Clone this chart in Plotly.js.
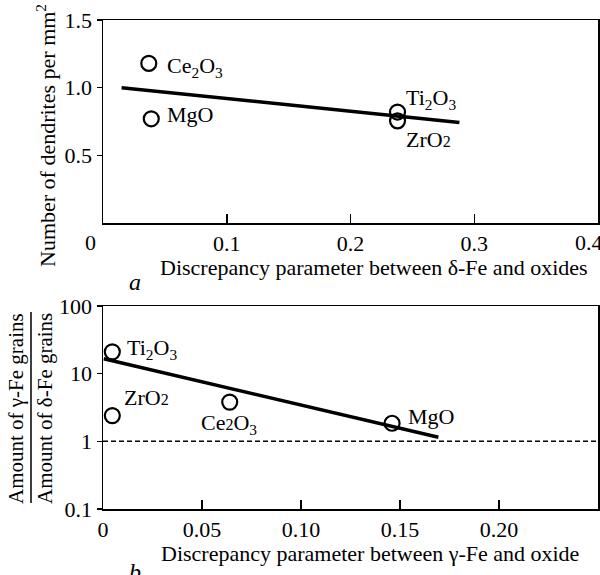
<!DOCTYPE html>
<html>
<head>
<meta charset="utf-8">
<script src="https://cdn.plot.ly/plotly-3.0.1.min.js"></script>
<style>html,body{margin:0;padding:0;background:#fff;}#chart{width:600px;height:575px;}</style>
</head>
<body>
<div id="chart"></div>
<script>
// ---- Panel a data ----
var namesA = ['Ce<sub>2</sub>O<sub>3</sub>', 'MgO', 'Ti<sub>2</sub>O<sub>3</sub>', 'ZrO<span style="font-size:16px">2</span>'];
var xA = [0.037, 0.039, 0.238, 0.238];
var yA = [1.18, 0.77, 0.82, 0.755];
var fitAx = [0.015, 0.288];
var fitAy = [1.0, 0.743];
var tickValsAx = [0.1, 0.2, 0.3, 0.4];
var tickTextAx = ['0.1', '0.2', '0.3', ''];
var edgeLabelsAx = ['0', '0.4'];
var tickValsAy = [0.5, 1.0, 1.5];
var tickTextAy = ['0.5', '1.0', '1.5'];

// ---- Panel b data ----
var namesB = ['Ti<sub>2</sub>O<sub>3</sub>', 'ZrO<span style="font-size:16px">2</span>', 'Ce<span style="font-size:16px">2</span>O<sub>3</sub>', 'MgO'];
var xB = [0.0047, 0.0047, 0.064, 0.146];
var yB = [21, 2.4, 3.8, 1.85];
var fitBx = [0.0004, 0.1694];
var fitBy = [16.6, 1.15];
var refBx = [0, 0.25];
var refBy = [1, 1];
var tickValsBx = [0, 0.05, 0.10, 0.15, 0.20];
var tickTextBx = ['0', '0.05', '0.10', '0.15', '0.20'];
var tickValsBy = [0.1, 1, 10, 100];
var tickTextBy = ['0.1', '1', '10', '100'];

var FONT = "'Liberation Serif', 'Times New Roman', serif";
var fs = 22;

// pixel -> paper helpers (plot area: x 103..598, y 20..509)
function px(x){ return (x - 103) / 495; }
function py(y){ return (509 - y) / 489; }

var marker = {symbol: 'circle-open', size: 15, color: 'black', line: {width: 2.2, color: 'black'}};

var traces = [
  {x: fitAx, y: fitAy, mode: 'lines', line: {color: 'black', width: 3.5}, xaxis: 'x', yaxis: 'y', hoverinfo: 'skip'},
  {x: xA, y: yA, mode: 'markers', marker: marker, xaxis: 'x', yaxis: 'y'},
  {x: refBx, y: refBy, mode: 'lines', line: {color: 'black', width: 1.5, dash: '5px,3px'}, xaxis: 'x2', yaxis: 'y2', hoverinfo: 'skip'},
  {x: fitBx, y: fitBy, mode: 'lines', line: {color: 'black', width: 3.5}, xaxis: 'x2', yaxis: 'y2', hoverinfo: 'skip'},
  {x: xB, y: yB, mode: 'markers', marker: marker, xaxis: 'x2', yaxis: 'y2'}
];

var shiftA = [[16, -4], [14, 4], [6, 13], [6, -19]];
var shiftB = [[13, 3], [10, 18], [-31, -22], [14, 7]];

var annotations = [];
namesA.forEach(function(n, i){
  annotations.push({x: xA[i], y: yA[i], xref: 'x', yref: 'y', text: n, showarrow: false,
    xanchor: 'left', yanchor: 'middle', xshift: shiftA[i][0], yshift: shiftA[i][1],
    font: {family: FONT, size: fs, color: 'black'}});
});
namesB.forEach(function(n, i){
  annotations.push({x: xB[i], y: Math.log10(yB[i]), xref: 'x2', yref: 'y2', text: n, showarrow: false,
    xanchor: 'left', yanchor: 'middle', xshift: shiftB[i][0], yshift: shiftB[i][1],
    font: {family: FONT, size: fs, color: 'black'}});
});
// edge tick labels of panel a (offset as in the original)
annotations.push({x: px(90), y: py(242), xref: 'paper', yref: 'paper', text: edgeLabelsAx[0], showarrow: false,
  xanchor: 'center', yanchor: 'middle', font: {family: FONT, size: fs, color: 'black'}});
annotations.push({x: px(574), y: py(242), xref: 'paper', yref: 'paper', text: edgeLabelsAx[1], showarrow: false,
  xanchor: 'left', yanchor: 'middle', borderpad: 0, font: {family: FONT, size: fs, color: 'black'}});
annotations.push({x: px(374), y: py(267), xref: 'paper', yref: 'paper', text: 'Discrepancy parameter between δ-Fe and oxides', showarrow: false,
  xanchor: 'center', yanchor: 'middle', font: {family: FONT, size: fs, color: 'black'}});
annotations.push({x: px(135), y: py(282), xref: 'paper', yref: 'paper', text: '<i>a</i>', showarrow: false,
  xanchor: 'center', yanchor: 'middle', font: {family: FONT, size: fs + 2, color: 'black'}});
annotations.push({x: px(46), y: py(136), xref: 'paper', yref: 'paper', text: 'Number of dendrites per mm<sup>2</sup>', showarrow: false,
  textangle: -90, xanchor: 'center', yanchor: 'middle', font: {family: FONT, size: fs, color: 'black'}});
annotations.push({x: px(370), y: py(553), xref: 'paper', yref: 'paper', text: 'Discrepancy parameter between γ-Fe and oxide', showarrow: false,
  xanchor: 'center', yanchor: 'middle', font: {family: FONT, size: fs, color: 'black'}});
annotations.push({x: px(135), y: py(572), xref: 'paper', yref: 'paper', text: '<i>b</i>', showarrow: false,
  xanchor: 'center', yanchor: 'middle', font: {family: FONT, size: fs + 2, color: 'black'}});
annotations.push({x: px(16), y: py(409), xref: 'paper', yref: 'paper', text: 'Amount of γ-Fe grains', showarrow: false,
  textangle: -90, xanchor: 'center', yanchor: 'middle', font: {family: FONT, size: fs - 1, color: 'black'}});
annotations.push({x: px(45), y: py(409), xref: 'paper', yref: 'paper', text: 'Amount of δ-Fe grains', showarrow: false,
  textangle: -90, xanchor: 'center', yanchor: 'middle', font: {family: FONT, size: fs - 1, color: 'black'}});

var shapes = [
  {type: 'line', xref: 'paper', yref: 'paper', x0: px(31), x1: px(31), y0: py(312), y1: py(503),
   line: {color: 'black', width: 1.5}}
];

var axBase = {
  showline: true, mirror: true, linecolor: 'black', linewidth: 1.5,
  showgrid: false, zeroline: false, tickcolor: 'black', tickwidth: 1.5,
  ticklabeloverflow: 'allow',
  tickfont: {family: FONT, size: fs, color: 'black'}
};

function ax(o){ return Object.assign({}, axBase, o); }

var layout = {
  width: 600, height: 575,
  margin: {l: 103, r: 2, t: 20, b: 66},
  paper_bgcolor: 'white', plot_bgcolor: 'white',
  font: {family: FONT, size: fs, color: 'black'},
  showlegend: false,
  xaxis: ax({domain: [0, 1], range: [0, 0.4], tickvals: tickValsAx, ticktext: tickTextAx, ticks: 'inside', ticklen: 9, anchor: 'y'}),
  yaxis: ax({domain: [py(223), 1], range: [0, 1.5], tickvals: tickValsAy, ticktext: tickTextAy, ticks: 'outside', ticklen: 5, anchor: 'x'}),
  xaxis2: ax({domain: [0, 1], range: [0, 0.25], tickvals: tickValsBx, ticktext: tickTextBx, ticks: 'inside', ticklen: 9, anchor: 'y2'}),
  yaxis2: ax({domain: [0, py(306)], type: 'log', range: [-1, 2], tickvals: tickValsBy, ticktext: tickTextBy, ticks: 'outside', ticklen: 5, anchor: 'x2'}),
  annotations: annotations,
  shapes: shapes
};

Plotly.newPlot('chart', traces, layout, {staticPlot: true, displayModeBar: false});
</script>
</body>
</html>
